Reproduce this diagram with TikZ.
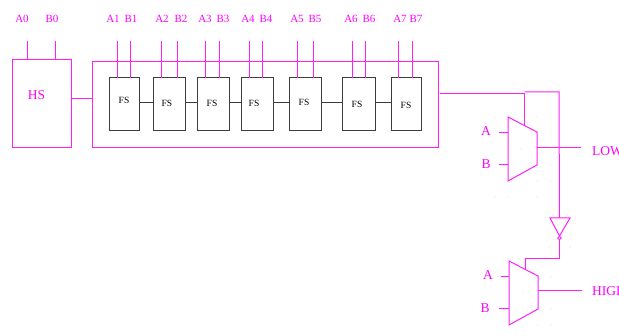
\documentclass[tikz,border=0pt]{standalone}
\usepackage{fontspec}
\setmainfont{Liberation Serif}
\definecolor{mag}{RGB}{255,30,255}
\definecolor{magtxt}{RGB}{255,0,255}
\definecolor{fsgray}{RGB}{60,60,60}
\definecolor{griddot}{RGB}{244,244,110}
\tikzset{
  wire/.style={draw=mag,line width=1pt},
  fswire/.style={draw=fsgray,line width=1pt},
  boxnode/.style={draw=mag,line width=1pt,inner sep=0pt,outer sep=0pt},
  fsbox/.style={draw=fsgray,line width=1pt,inner sep=0pt,outer sep=0pt,minimum height=53pt},
  lab/.style={text=magtxt,font=\fontsize{11}{11}\selectfont,inner sep=0pt},
  biglab/.style={text=magtxt,font=\fontsize{13.5}{13.5}\selectfont,inner sep=0pt},
  fslab/.style={text=black,font=\fontsize{9.5}{9.5}\selectfont,inner sep=0pt},
}
\begin{document}
\begin{tikzpicture}[x=1pt,y=-1pt]
\useasboundingbox (0,0) rectangle (619,336);
\clip (0,0) rectangle (619,336);
% faint editor grid dots
\foreach \x/\y in {495/117,508/117,537/117,551/117,508/133,537/133,551/133,521/149,551/149,508/165,551/165,537/181,551/181,495/197,508/197,537/197,
  549/211,570/211,549/235,570/235,549/247,570/247,538/261,551/277,523/293,523/309,551/309,538/325,551/325}
  \fill[griddot] (\x,\y) circle (0.7);
% HS and outer box
\node[boxnode,minimum width=59pt,minimum height=88pt] (hs) at (41.5,104) {};
\node[biglab] (hslab) at (36.5,95) {HS};
\node[boxnode,minimum width=346.5pt,minimum height=86pt] (outer) at (265.25,105) {};
\draw[wire] (hs.east |- 0,98.5) -- (outer.west |- 0,98.5);
% FS boxes
\foreach \n/\l/\r/\lx/\ly in {1/109/139/124/100,2/153/185.5/167/103,3/197/229/212/103,4/241/273/254/103,5/289/321/304/102,6/342/375/357/104,7/391/421/406/105}{
  \node[fsbox,minimum width={\r pt-\l pt}] (fs\n) at ({(\l+\r)/2},104.5) {};
  \node[fslab] (fslab\n) at (\lx,\ly) {FS};
}
\foreach \a/\b in {1/2,2/3,3/4,4/5,5/6,6/7}
  \draw[fswire] (fs\a.east |- 0,103) -- (fs\b.west |- 0,103);
% Top inputs
\coordinate (ia0) at (27,41); \coordinate (ib0) at (55,41);
\node[lab] (la0) at (22,19) {A0};
\node[lab] (lb0) at (52,19) {B0};
\draw[wire] (ia0) -- (ia0 |- hs.north);
\draw[wire] (ib0) -- (ib0 |- hs.north);
\foreach \n/\ax/\bx/\alx/\blx in {1/117/130/113/131,2/161/177/162/181,3/205/219/205/223,4/249/262/248/266,5/297/313/297/315,6/352/365/351/369,7/398/412/400/416}{
  \coordinate (ia\n) at (\ax,41); \coordinate (ib\n) at (\bx,41);
  \node[lab] (la\n) at (\alx,19) {A\n};
  \node[lab] (lb\n) at (\blx,19) {B\n};
  \draw[wire] (ia\n) -- (ia\n |- fs\n.north);
  \draw[wire] (ib\n) -- (ib\n |- fs\n.north);
}
% Upper mux
\coordinate (m1a) at (508,117); \coordinate (m1b) at (537,132);
\coordinate (m1c) at (537,165); \coordinate (m1d) at (508,181);
\draw[wire,line join=miter] (m1a) -- (m1b) -- (m1c) -- (m1d) -- cycle;
\coordinate (m1s) at (524.5,125.5);
\coordinate (m1in1) at (508,133); \coordinate (m1in2) at (508,165);
\coordinate (m1o) at (537,148);
\node[biglab] (labA1) at (486,131) {A};
\node[biglab] (labB1) at (486,164) {B};
\node[biglab,anchor=west] (low) at (592,151) {LOW};
\draw[wire] (m1in1) -- ++(-9,0);
\draw[wire] (m1in2) -- ++(-9,0);
\draw[wire] (m1o) -- (581,148);
% Enable route
\coordinate (junc) at (524.5,93.5);
\coordinate (corner) at (559,92);
\coordinate (invt) at (559.5,218);
\draw[wire] (440,93.5) -- (junc);
\draw[wire] (junc) -- (m1s);
\draw[wire] (524.5,92) -- (corner) -- (invt);
% Inverter
\coordinate (ia) at (550,218); \coordinate (ib) at (570,218); \coordinate (ic) at (559.5,236);
\draw[wire] (ia) -- (ib) -- (ic) -- cycle;
\node[draw=mag,line width=1pt,circle,inner sep=0pt,minimum size=3.5pt] (bub) at (559.5,238) {};
% Lower mux
\coordinate (m2a) at (509,261); \coordinate (m2b) at (538,276);
\coordinate (m2c) at (538,309); \coordinate (m2d) at (509,325);
\draw[wire] (m2a) -- (m2b) -- (m2c) -- (m2d) -- cycle;
\coordinate (m2s) at (525,269);
\draw[wire] (bub.south) -- (559.5,258.5) -- (525,258.5) -- (m2s);
\node[biglab] (labA2) at (488,275) {A};
\node[biglab] (labB2) at (485,308) {B};
\node[biglab,anchor=west] (high) at (592,291) {HIGH};
\draw[wire] (509,277) -- (501,277);
\draw[wire] (509,309) -- (499,309);
\draw[wire] (538,291) -- (582,291);
\end{tikzpicture}
\end{document}
